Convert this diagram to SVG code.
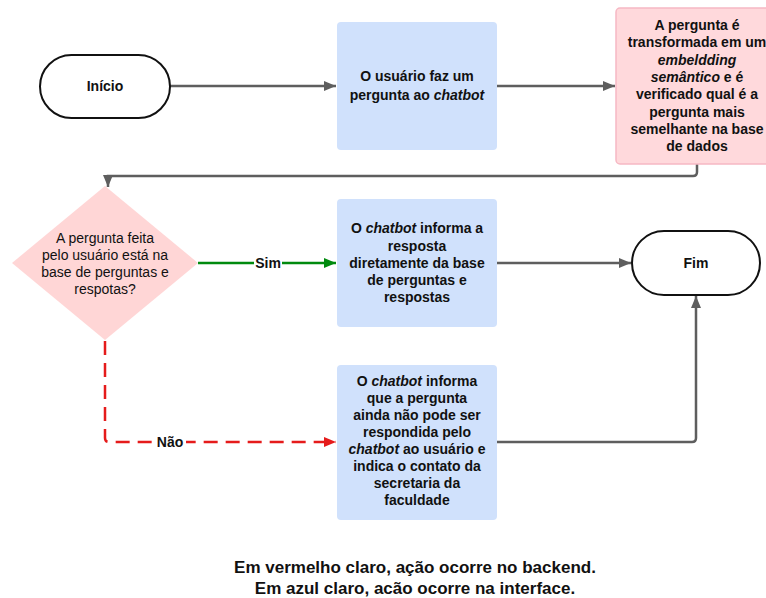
<svg xmlns="http://www.w3.org/2000/svg" width="766" height="598" viewBox="0 0 766 598">
<defs>
<style>
text{font-family:"Liberation Sans",Arial,sans-serif;font-size:14px;text-anchor:middle;fill:#111}
.b{font-weight:bold}
.i{font-style:italic}
.blue{fill:#d0e1fc}
.pink{fill:#ffd9dc;stroke:#f6b8c4;stroke-width:1.5}
.term{fill:#fff;stroke:#111;stroke-width:2}
.ln{fill:none;stroke:#5e5e5e;stroke-width:2.5}
.lbl{font-weight:bold;font-size:14px}
.foot{font-weight:bold;font-size:17px}
</style>
<marker id="ag" viewBox="0 0 12 10" refX="12" refY="5" markerWidth="12" markerHeight="10" markerUnits="userSpaceOnUse" orient="auto"><path d="M0,0L12,5L0,10z" fill="#5e5e5e"/></marker>
<marker id="agr" viewBox="0 0 12 10" refX="12" refY="5" markerWidth="12" markerHeight="10" markerUnits="userSpaceOnUse" orient="auto"><path d="M0,0L12,5L0,10z" fill="#008a0e"/></marker>
<marker id="ard" viewBox="0 0 12 10" refX="12" refY="5" markerWidth="12" markerHeight="10" markerUnits="userSpaceOnUse" orient="auto"><path d="M0,0L12,5L0,10z" fill="#e51b1b"/></marker>
</defs>
<rect width="766" height="598" fill="#fff"/>

<g id="connectors">
<path class="ln" d="M170,86H336" marker-end="url(#ag)"/>
<path class="ln" d="M497,86H615" marker-end="url(#ag)"/>
<path class="ln" d="M697,164V172Q697,176 693,176H108V187" marker-end="url(#ag)"/>
<path d="M198,263H336" fill="none" stroke="#008a0e" stroke-width="2.5" marker-end="url(#agr)"/>
<path d="M105,341V438Q105,442 109,442H336" fill="none" stroke="#e51b1b" stroke-width="2.5" stroke-dasharray="14,8" marker-end="url(#ard)"/>
<path class="ln" d="M497,263H631" marker-end="url(#ag)"/>
<path class="ln" d="M497,442H692Q696,442 696,438V296" marker-end="url(#ag)"/>
<rect x="254" y="255" width="28" height="15" fill="#fff"/>
<text class="lbl" x="268" y="268">Sim</text>
<rect x="155" y="434" width="31" height="15" fill="#fff"/>
<text class="lbl" x="170" y="447">Não</text>
</g>

<g id="inicio">
<rect class="term" x="40" y="55" width="130" height="63" rx="31.5"/>
<text class="b" x="105" y="91">Início</text>
</g>

<g id="pergunta">
<rect class="blue" x="337" y="22" width="160" height="128" rx="4"/>
<text class="b" x="417" y="81">O usuário faz um</text>
<text class="b" x="417" y="100">pergunta ao <tspan class="i">chatbot</tspan></text>
</g>

<g id="embedding">
<rect class="pink" x="616" y="8" width="162" height="156" rx="4"/>
<text class="b" x="697" y="30">A pergunta é</text>
<text class="b" x="697" y="47">transformada em um</text>
<text class="b i" x="697" y="65">embeldding</text>
<text class="b" x="697" y="82"><tspan class="i">semântico</tspan> e é</text>
<text class="b" x="697" y="99">verificado qual é a</text>
<text class="b" x="697" y="117">pergunta mais</text>
<text class="b" x="697" y="134">semelhante na base</text>
<text class="b" x="697" y="151">de dados</text>
</g>

<g id="decisao">
<path d="M105,186L198,263L105,340L12,263z" fill="#ffd6d6"/>
<text x="105" y="243">A pergunta feita</text>
<text x="105" y="260">pelo usuário está na</text>
<text x="105" y="277">base de perguntas e</text>
<text x="105" y="294">respotas?</text>
</g>

<g id="resposta">
<rect class="blue" x="337" y="199" width="160" height="128" rx="4"/>
<text class="b" x="417" y="233">O <tspan class="i">chatbot</tspan> informa a</text>
<text class="b" x="417" y="251">resposta</text>
<text class="b" x="417" y="268">diretamente da base</text>
<text class="b" x="417" y="285">de perguntas e</text>
<text class="b" x="417" y="302">respostas</text>
</g>

<g id="sem-resposta">
<rect class="blue" x="337" y="365" width="160" height="155" rx="4"/>
<text class="b" x="417" y="386">O <tspan class="i">chatbot</tspan> informa</text>
<text class="b" x="417" y="403">que a pergunta</text>
<text class="b" x="417" y="420">ainda não pode ser</text>
<text class="b" x="417" y="437">respondida pelo</text>
<text class="b" x="417" y="454"><tspan class="i">chatbot</tspan> ao usuário e</text>
<text class="b" x="417" y="471">indica o contato da</text>
<text class="b" x="417" y="488">secretaria da</text>
<text class="b" x="417" y="505">faculdade</text>
</g>

<g id="fim">
<rect class="term" x="632" y="231" width="128" height="64" rx="32"/>
<text class="b" x="696" y="268">Fim</text>
</g>

<g id="legenda">
<text class="foot" x="415" y="573">Em vermelho claro, ação ocorre no backend.</text>
<text class="foot" x="415" y="594">Em azul claro, acão ocorre na interface.</text>
</g>
</svg>
